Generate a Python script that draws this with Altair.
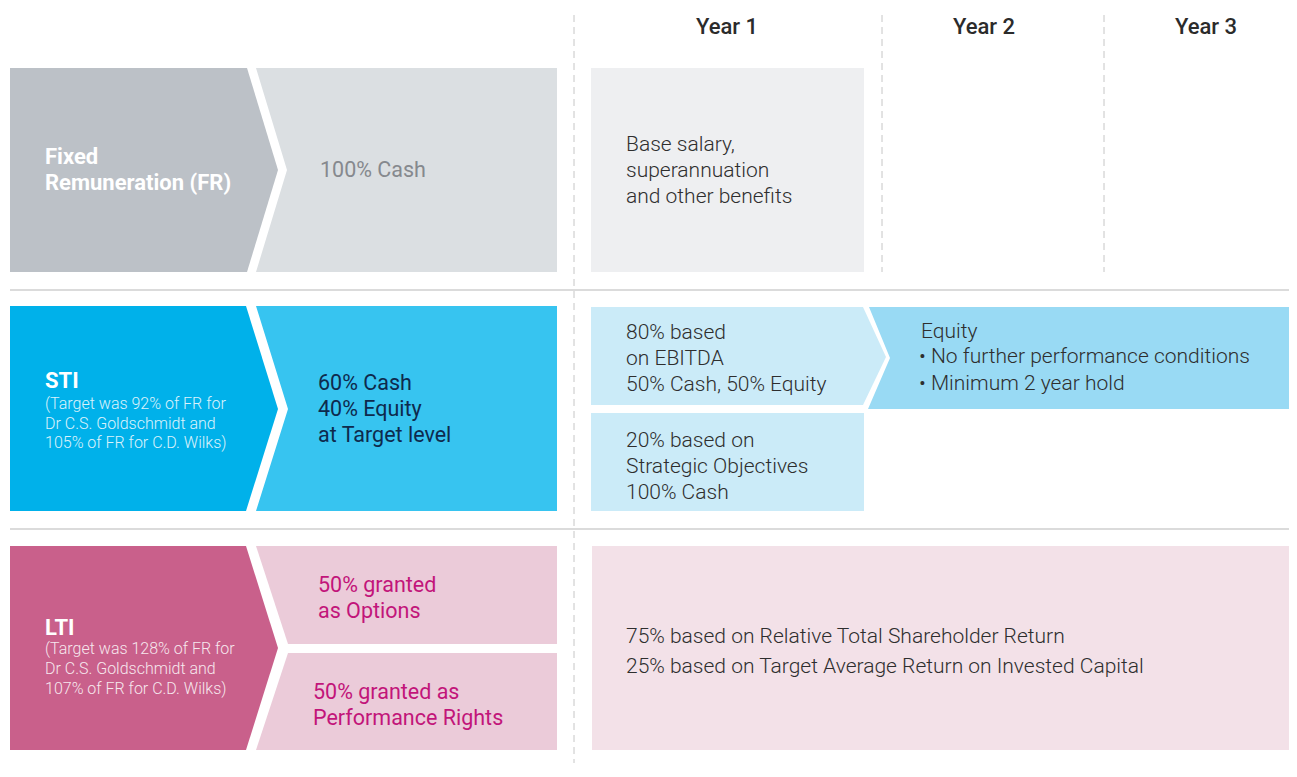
import altair as alt
import pandas as pd

# ---------------- data ----------------
# polygons: id, colour, vertex list (diagram coordinates, y down)
poly_ids = ["fr_dark", "fr_light", "sti_dark", "sti_light", "lti_dark", "lti_top", "lti_bot",
            "fr_y1", "sti_a", "sti_eq", "sti_b", "lti_y"]
poly_colors = ["#BCC1C7", "#DBDFE2", "#00B1EA", "#37C4F0", "#C9608B", "#EBCBD9", "#EBCBD9",
               "#EEEFF1", "#CBEBF8", "#99DAF4", "#CBEBF8", "#F3E1E8"]
poly_xs = [
    [10, 247, 278, 247, 10],
    [256, 557, 557, 256, 287],
    [10, 246, 278, 246, 10],
    [256, 557, 557, 256, 288],
    [10, 246, 278, 246, 10],
    [256, 557, 557, 288],
    [288, 557, 557, 256],
    [591, 864, 864, 591],
    [591, 863, 886, 863, 591],
    [869, 1297, 1297, 868, 890],
    [591, 864, 864, 591],
    [592, 1297, 1297, 592],
]
poly_ys = [
    [68, 68, 170, 272, 272],
    [68, 68, 272, 272, 170],
    [306, 306, 409, 511, 511],
    [306, 306, 511, 511, 409],
    [546, 546, 648, 750, 750],
    [546, 546, 644, 644],
    [653, 653, 750, 750],
    [68, 68, 272, 272],
    [307, 307, 357, 405, 405],
    [307, 307, 409, 409, 358],
    [413, 413, 511, 511],
    [546, 546, 750, 750],
]

# guide lines
dash_x = [574, 882, 1104]
dash_y1 = [15, 15, 15]
dash_y2 = [775, 272, 272]
sep_y = [290, 529]
sep_x1 = [10, 10]
sep_x2 = [1297, 1297]

# headers
year_labels = ["Year 1", "Year 2", "Year 3"]
year_x = [727, 984, 1206]
year_y = [26, 26, 26]

# bold titles in the left chevrons
title_text = ["Fixed", "Remuneration (FR)", "STI", "LTI"]
title_x = [45, 45, 45, 45]
title_y = [156, 182, 380, 627]

# small notes
note_text = ["(Target was 92% of FR for", "Dr C.S. Goldschmidt and", "105% of FR for C.D. Wilks)",
             "(Target was 128% of FR for", "Dr C.S. Goldschmidt and", "107% of FR for C.D. Wilks)"]
note_x = [45] * 6
note_y = [403, 423, 442, 648, 668, 688]

# text inside the left-hand light chevrons
left_text = ["100% Cash",
             "60% Cash", "40% Equity", "at Target level",
             "50% granted", "as Options",
             "50% granted as", "Performance Rights"]
left_x = [320, 318, 318, 318, 318, 318, 313, 313]
left_y = [170, 383, 409, 435, 585, 611, 692, 718]
left_color = ["#86898E", "#0E2A4D", "#0E2A4D", "#0E2A4D", "#C2157A", "#C2157A", "#C2157A", "#C2157A"]

# text in the year columns
body_text = ["Base salary,", "superannuation", "and other benefits",
             "80% based", "on EBITDA", "50% Cash, 50% Equity",
             "Equity", "• No further performance conditions", "• Minimum 2 year hold",
             "20% based on", "Strategic Objectives", "100% Cash",
             "75% based on Relative Total Shareholder Return",
             "25% based on Target Average Return on Invested Capital"]
body_x = [626, 626, 626, 626, 626, 626, 921, 919, 919, 626, 626, 626, 626, 626]
body_y = [144, 170, 196, 332, 358, 384, 331, 356, 383, 440, 466, 492, 636, 666]

# ---------------- build tables ----------------
rows = []
for pid, col, xs_, ys_ in zip(poly_ids, poly_colors, poly_xs, poly_ys):
    for i, (px, py) in enumerate(zip(xs_, ys_)):
        rows.append({"id": pid, "col": col, "x": px, "y": py, "i": i})
poly_df = pd.DataFrame(rows)

dash_df = pd.DataFrame({"x": dash_x, "y": dash_y1, "y2": dash_y2})
sep_df = pd.DataFrame({"x": sep_x1, "x2": sep_x2, "y": sep_y})
year_df = pd.DataFrame({"t": year_labels, "x": year_x, "y": year_y})
title_df = pd.DataFrame({"t": title_text, "x": title_x, "y": title_y})
note_df = pd.DataFrame({"t": note_text, "x": note_x, "y": note_y})
left_df = pd.DataFrame({"t": left_text, "x": left_x, "y": left_y, "c": left_color})
body_df = pd.DataFrame({"t": body_text, "x": body_x, "y": body_y})

# page pixel = 8 (body margin) + chart pixel
W, H = 1281, 755
xs = alt.Scale(domain=[8, 8 + W], nice=False, zero=False)
ys = alt.Scale(domain=[8, 8 + H], nice=False, zero=False, reverse=True)
X = lambda f="x": alt.X(f"{f}:Q", scale=xs, axis=None)
Y = lambda f="y": alt.Y(f"{f}:Q", scale=ys, axis=None)

polys = alt.Chart(poly_df).mark_line(interpolate="linear-closed", strokeWidth=0).encode(
    x=X(), y=Y(),
    fill=alt.Fill("col:N", scale=None),
    detail="id:N",
    order="i:Q",
)

dashes = alt.Chart(dash_df).mark_rule(color="#C6C6C6", strokeWidth=1, strokeDash=[7, 5]).encode(
    x=X(), y=Y(), y2="y2:Q"
)
seps = alt.Chart(sep_df).mark_rule(color="#CFCFCF", strokeWidth=1.5).encode(
    x=X(), x2="x2:Q", y=Y()
)

years = alt.Chart(year_df).mark_text(
    font="Roboto", fontSize=22, fontWeight=500, color="#2B2B2B", align="center", baseline="middle", dy=1
).encode(x=X(), y=Y(), text="t:N")

titles = alt.Chart(title_df).mark_text(
    font="Roboto", fontSize=22, fontWeight="bold", color="#FFFFFF", align="left", baseline="middle", dy=1
).encode(x=X(), y=Y(), text="t:N")

notes = alt.Chart(note_df).mark_text(
    font="Roboto", fontSize=16, fontWeight=300, color="#FFFFFF", opacity=0.85, align="left",
    baseline="middle", dy=1
).encode(x=X(), y=Y(), text="t:N")

left = alt.Chart(left_df).mark_text(
    font="Roboto", fontSize=21.5, fontWeight=400, align="left", baseline="middle", dy=1
).encode(x=X(), y=Y(), text="t:N", color=alt.Color("c:N", scale=None))

body = alt.Chart(body_df).mark_text(
    font="Roboto", fontSize=21, fontWeight=300, color="#2E2E2E", align="left", baseline="middle", dy=1
).encode(x=X(), y=Y(), text="t:N")

chart = alt.layer(polys, dashes, seps, years, titles, notes, left, body).properties(
    width=W, height=H,
    padding=0,
    autosize=alt.AutoSizeParams(type="none"),
    background="#FFFFFF",
).configure_view(stroke=None)

chart.save("out.html", embed_options={"renderer": "svg", "actions": False})
